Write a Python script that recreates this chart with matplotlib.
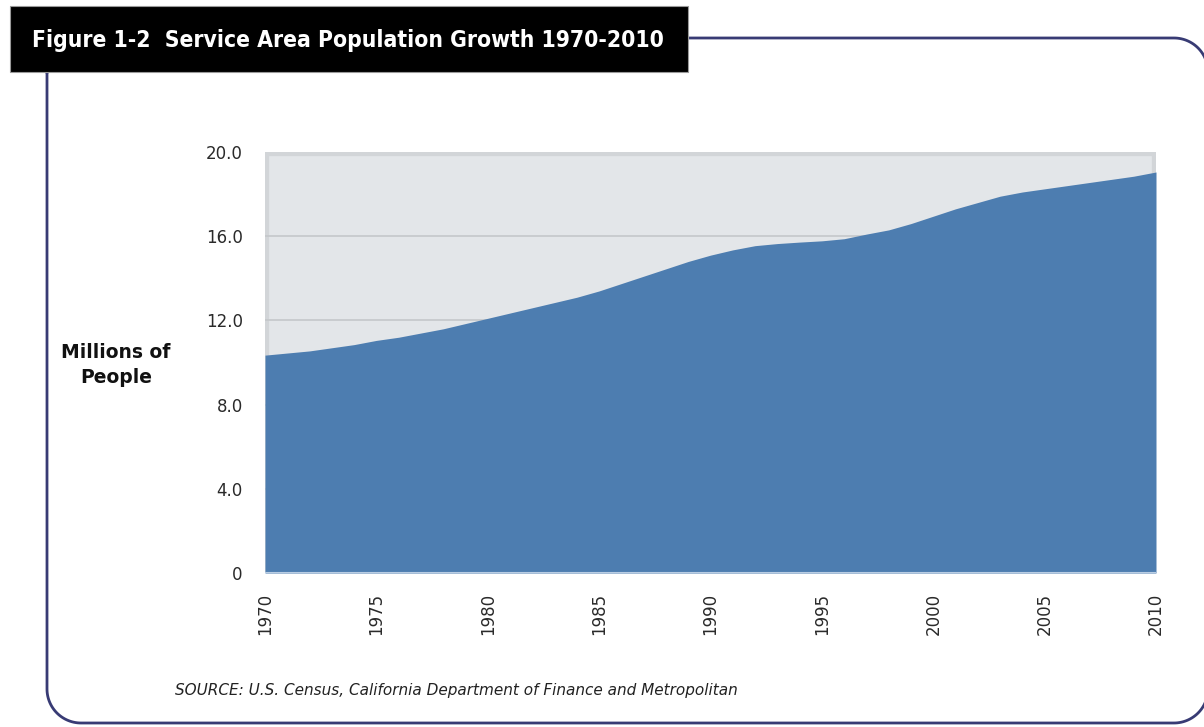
import matplotlib
matplotlib.use("Agg")
import numpy as np
import matplotlib.pyplot as plt
from matplotlib.patches import Rectangle
from matplotlib.lines import Line2D

years = list(range(1970, 2011))
population = [10.35, 10.45, 10.55, 10.70, 10.85, 11.05, 11.20, 11.40, 11.60, 11.85,
              12.10, 12.35, 12.60, 12.85, 13.10, 13.40, 13.75, 14.10, 14.45, 14.80,
              15.10, 15.35, 15.55, 15.65, 15.72, 15.78, 15.88, 16.10, 16.30, 16.60,
              16.95, 17.30, 17.60, 17.90, 18.10, 18.25, 18.40, 18.55, 18.70, 18.85,
              19.05]
y_ticks = [0, 4, 8, 12, 16, 20]
y_tick_labels = ["0", "4.0", "8.0", "12.0", "16.0", "20.0"]
x_ticks = [1970, 1975, 1980, 1985, 1990, 1995, 2000, 2005, 2010]

W, H = 1204, 727
fig = plt.figure(figsize=(W / 100, H / 100), dpi=100)
fig.patch.set_facecolor("white")

def fx(px):
    return np.asarray(px, dtype=float) / W

def fy(py):
    return 1 - np.asarray(py, dtype=float) / H

# outer rounded frame, built in pixel space (y downward) then converted
L, T, R, B, rad = 47, 38, 1208, 723, 34
pts = []
def arc(cx, cy, a0, a1):
    a = np.radians(np.linspace(a0, a1, 30))
    return list(zip(cx + rad * np.cos(a), cy + rad * np.sin(a)))
pts += arc(L + rad, T + rad, 180, 270)   # top-left
pts += arc(R - rad, T + rad, 270, 360)   # top-right
pts += arc(R - rad, B - rad, 0, 90)      # bottom-right
pts += arc(L + rad, B - rad, 90, 180)    # bottom-left
pts.append(pts[0])
px_, py_ = zip(*pts)
fig.add_artist(Line2D(fx(px_), fy(py_), transform=fig.transFigure,
                      color="#383b74", linewidth=2.0, zorder=1))

# title box (on top of the frame line)
tbox = Rectangle((fx(10), fy(72)), fx(688) - fx(10), fy(6) - fy(72),
                 transform=fig.transFigure, facecolor="black",
                 edgecolor="#9a9a9a", linewidth=0.8, zorder=5)
fig.add_artist(tbox)
fig.text(fx(32), fy(40), "Figure 1-2  Service Area Population Growth 1970-2010",
         color="white", fontsize=16.4, fontweight="bold", family="DejaVu Sans",
         fontstretch="condensed", va="center", ha="left", zorder=6)

# axes
x0, x1 = 265, 1156
y0, y1 = 573, 152
ax = fig.add_axes([fx(x0), fy(y0), fx(x1) - fx(x0), fy(y1) - fy(y0)])
ax.set_xlim(1970, 2010)
ax.set_ylim(0, 20)
ax.set_facecolor("#e3e6e9")

# wall edges (3D look)
ax.add_patch(Rectangle((0, 0), 1, 1, transform=ax.transAxes, fill=False,
                       edgecolor="#d2d5d8", linewidth=6, zorder=1))

for t in [4, 8, 12, 16]:
    ax.axhline(t, color="#c4c7ca", linewidth=1.2, zorder=1.5)

ax.fill_between(years, population, 0, color="#4d7db0", linewidth=0, zorder=3)
ax.axhline(0, color="#b9cde3", linewidth=1.5, zorder=4)

for s in ax.spines.values():
    s.set_visible(False)

ax.set_yticks(y_ticks)
ax.set_yticklabels(y_tick_labels)
ax.set_xticks(x_ticks)
ax.set_xticklabels([str(x) for x in x_ticks], rotation=90)
ax.tick_params(axis="both", length=0, labelsize=12, colors="#2a2a2a")
ax.tick_params(axis="y", pad=16)
ax.tick_params(axis="x", pad=14)

fig.text(fx(116), fy(365), "Millions of\nPeople", ha="center", va="center",
         fontsize=13.5, fontweight="bold", color="#111111", linespacing=1.35)

fig.text(fx(175), fy(690), "SOURCE: U.S. Census, California Department of Finance and Metropolitan",
         fontsize=11, style="italic", color="#222222", va="center", ha="left")

fig.savefig("out.png", dpi=100)
